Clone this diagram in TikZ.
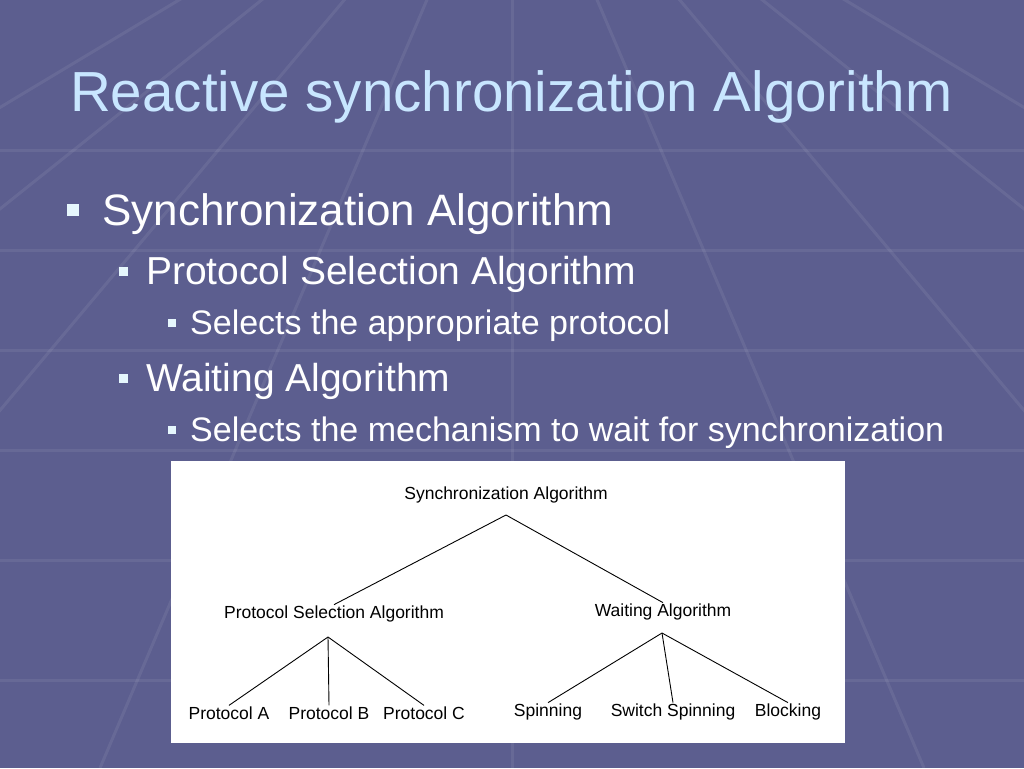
\documentclass[tikz,border=0pt]{standalone}
\usepackage{fontspec}
\setmainfont{Liberation Sans}
\begin{document}
\begin{tikzpicture}[x=1pt,y=-1pt,
  tt/.style={font=\fontsize{17.5}{17.5}\selectfont,text=black,inner sep=1pt},
  ln/.style={draw=black,line width=0.9pt},
  bul/.style={fill=white!90!cyan,minimum size=#1,inner sep=0pt},
  lv/.style={anchor=west,text=white,inner sep=0pt}]
\useasboundingbox (0,0) rectangle (1024,768);
\fill[color={rgb,255:red,92;green,94;blue,143}] (0,0) rectangle (1024,768);
\begin{scope}[draw=white,opacity=0.07,line width=3pt]
\foreach \y in {150,250,350,450,560,680} \draw (0,\y) -- (1024,\y);
\foreach \x in {-1100,-700,-300,100,512,924,1324,1724,2124} \draw (512,-200) -- ({\x},768);
\end{scope}
\node[text={rgb,255:red,200;green,230;blue,255},font=\fontsize{56.5}{56.5}\selectfont,anchor=west,inner sep=0pt] (title) at (70,97) {Reactive synchronization Algorithm};
\node[bul=12pt] (b1) at (73,210) {};
\node[lv,font=\fontsize{44}{44}\selectfont] (l1) at (102,214) {Synchronization Algorithm};
\node[bul=9pt] (b2) at (123,271) {};
\node[lv,font=\fontsize{39}{39}\selectfont] (l2) at (146,274) {Protocol Selection Algorithm};
\node[bul=8pt] (b3) at (172,323) {};
\node[lv,font=\fontsize{34}{34}\selectfont] (l3) at (190,326) {Selects the appropriate protocol};
\node[bul=9pt] (b4) at (123,378) {};
\node[lv,font=\fontsize{39}{39}\selectfont] (l4) at (146,381) {Waiting Algorithm};
\node[bul=8pt] (b5) at (172,430) {};
\node[lv,font=\fontsize{34}{34}\selectfont] (l5) at (190,433) {Selects the mechanism to wait for synchronization};
\fill[white] (171,461) rectangle (845,743);
\node[tt] (sa) at (506,495) {Synchronization Algorithm};
\node[tt] (psa) at (334,614) {Protocol Selection Algorithm};
\node[tt] (wa) at (663,612) {Waiting Algorithm};
\node[tt] (pa) at (229,713) {Protocol A};
\node[tt] (pb) at (329,713) {Protocol B};
\node[tt] (pc) at (424,713) {Protocol C};
\node[tt] (sp) at (548,712) {Spinning};
\node[tt] (ss) at (673,712) {Switch Spinning};
\node[tt] (bl) at (788,712) {Blocking};
\coordinate (sab) at (506,515);
\coordinate (psab) at (328,637);
\coordinate (wab) at (662,633);
\draw[ln] (sab) -- (psa.north) ; \draw[ln] (sab) -- (wa.north);
\draw[ln] (psab) -- (pa.north); \draw[ln] (psab) -- (pb.north); \draw[ln] (psab) -- (pc.north);
\draw[ln] (wab) -- (sp.north); \draw[ln] (wab) -- (ss.north); \draw[ln] (wab) -- (bl.north);
\end{tikzpicture}
\end{document}
